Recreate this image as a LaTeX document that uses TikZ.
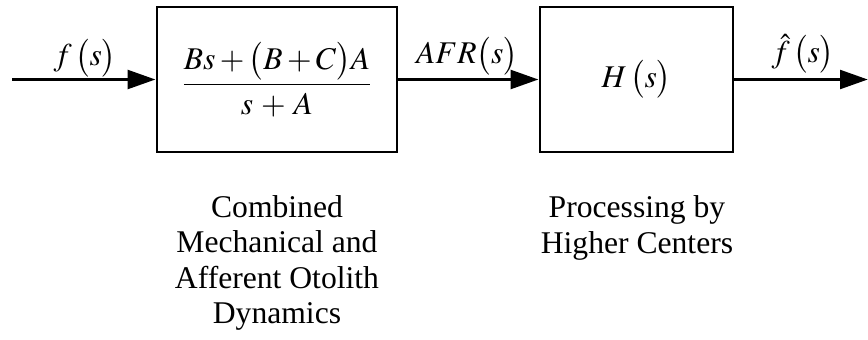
\documentclass[tikz,border=0pt]{standalone}
\usepackage{mathptmx}
\usepackage{fontspec}
\setmainfont{Liberation Serif}
\usetikzlibrary{arrows.meta}

\tikzset{
  block/.style={draw, line width=1.6pt, minimum height=2.9cm, inner sep=0pt},
  signal/.style={line width=2.2pt, -{Triangle[length=0.56cm,width=0.37cm]}},
  caption/.style={align=center}
}

\begin{document}
\begin{tikzpicture}[x=0.02cm, y=-0.02cm, font=\fontsize{18}{20}\selectfont]
        \useasboundingbox (0,0) rectangle (868,339);

        \node[block, minimum width=4.8cm] (otolith) at (277, 79.5)
            {$\displaystyle\frac{Bs+\bigl(B+C\bigr)A}{s\mskip2mu+\mskip2mu A}$};
        \node[block, minimum width=3.86cm] (higher) at (636.5, 79.5) {$H\,\bigl(s\bigr)$};

        \coordinate (in) at (12, 79.5);
        \coordinate (out) at (868, 79.5);

        \draw[signal] (in) -- (otolith.west);
        \draw[signal] (otolith.east) -- (higher.west);
        \draw[signal] (higher.east) -- (out);

        \node (fin) at (85, 58) {$f\,\bigl(s\bigr)$};
        \node (afr) at (467, 56) {$AFR\bigl(s\bigr)$};
        \node (fout) at (803, 54) {$\hat{f}\,\bigl(s\bigr)$};

        \node[caption] (otolithtext) at (277, 263)
            {Combined\\Mechanical and\\Afferent Otolith\\Dynamics};
        \node[caption] (highertext) at (637, 228)
            {Processing by\\Higher Centers};

    \end{tikzpicture}
\end{document}
